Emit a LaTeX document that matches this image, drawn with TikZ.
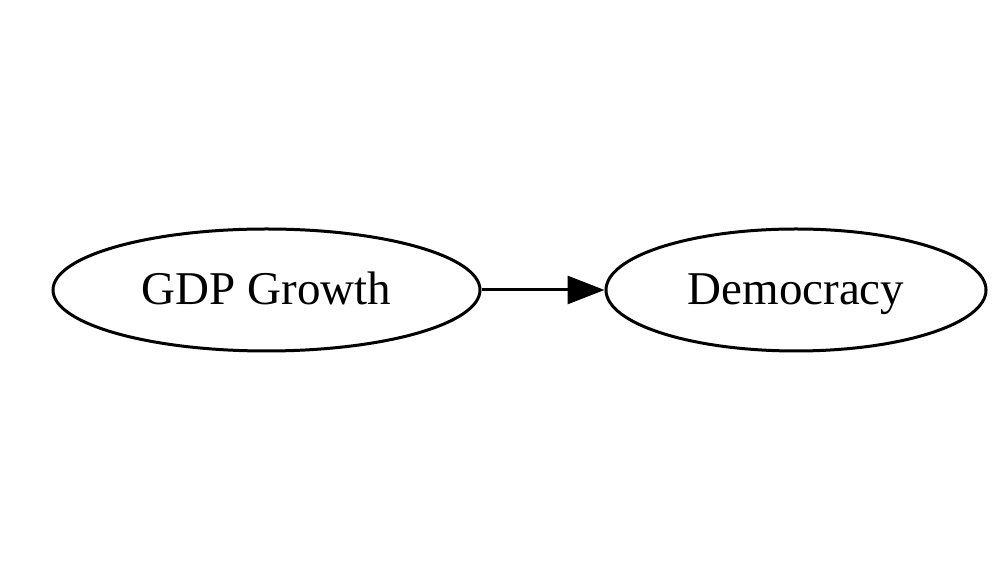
\documentclass[tikz,border=0pt]{standalone}
\usepackage{fontspec}
\setmainfont{Liberation Serif}
\usetikzlibrary{shapes.geometric,arrows.meta}
\begin{document}
\begin{tikzpicture}[x=1pt,y=1pt,
  nodeell/.style={draw,line width=3pt,ellipse,inner sep=0pt,text height=34pt,text depth=4pt,font=\fontsize{47}{50}\selectfont},
  conn/.style={line width=3pt,-{Triangle[length=37pt,width=28pt]}}]
\useasboundingbox (0,0) rectangle (1000,580);
\node[nodeell,minimum width=427pt,minimum height=122pt] (gdp) at (266.5,290) {GDP Growth};
\node[nodeell,minimum width=380pt,minimum height=122pt] (dem) at (796,290) {Democracy};
\draw[conn] (gdp) -- (dem);
\end{tikzpicture}
\end{document}
